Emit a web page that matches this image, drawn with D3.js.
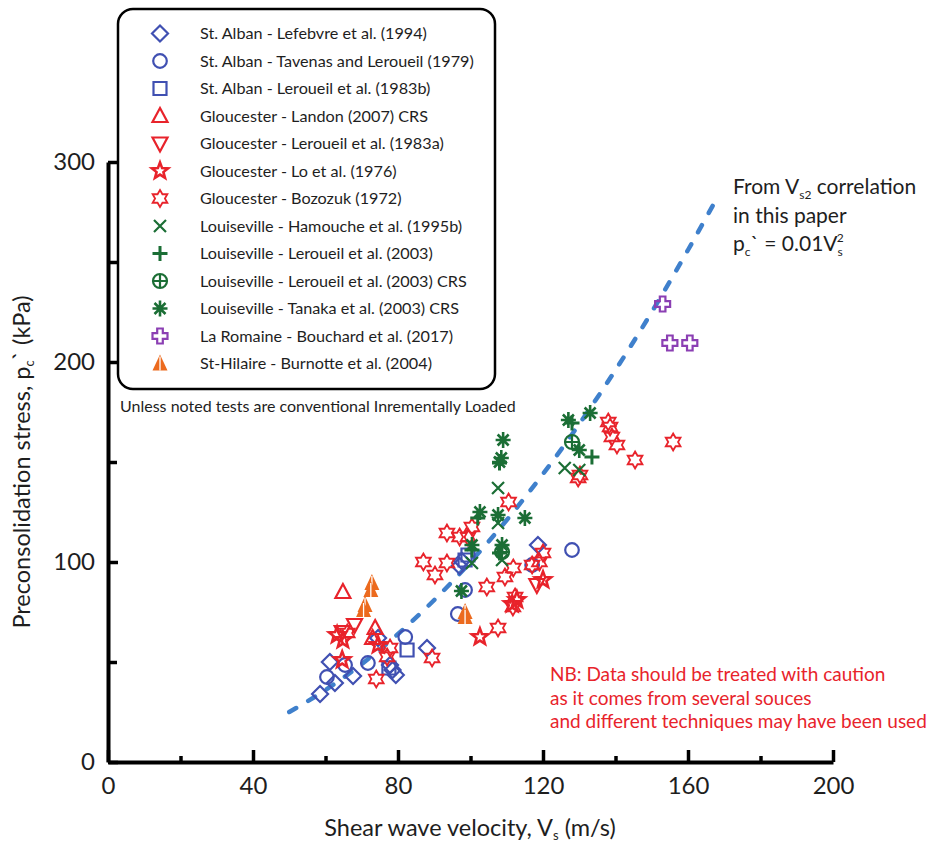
<!DOCTYPE html>
<html>
<head>
<meta charset="utf-8">
<script src="https://cdn.jsdelivr.net/npm/d3@7"></script>
<style>
  body { margin: 0; background: #fff; }
  svg text { font-family: Lato, "Open Sans", sans-serif; }
</style>
</head>
<body>
<svg id="vis-svg" width="940" height="843"></svg>
<script>
// data: [Vs (m/s), pc' (kPa)]
const lefebvre = [[58.5,34],[61.2,50],[62.6,39.5],[67.6,43],[74.5,62],[77.8,48.5],[79.4,43.5],[78.5,46],[88,57],[97,98],[97.6,100.5],[118.6,108.5]];
const tavenas = [[60.4,42.5],[65.4,48.5],[71.7,49.5],[82,62.5],[96.5,74],[98.5,86],[117,98.5],[128,106]];
const leroueilB = [[77.5,47],[82.5,56],[98.5,101],[99.3,103.5]];
const landon = [[64.8,85],[73.7,67],[73,62]];
const leroueilA = [[68,68.5],[64.6,65],[118.3,88.5]];
const lo = [[63.2,63.5],[64.8,61],[64.6,51],[74.5,58.5],[102.6,62.5],[112.8,81],[111.5,79],[120,91]];
const bozozuk = [[66,64.5],[74,41.5],[77.8,57],[77,52.5],[89.4,52],[90.2,93.5],[87,100],[93.5,99.5],[93.5,114.5],[97,112.5],
  [99.3,112.5],[100.4,117.5],[104.5,87.5],[109.5,92.5],[111.8,97],[117,98.5],[120,104.5],[119,100],[112.3,82.5],[111.7,77.5],
  [107.6,67],[110.5,130],[129.7,142],[130.2,143.5],[138,170],[138.5,167.5],[139,162.5],[140.4,158.5],[145.4,151],[155.9,160]];
const hamouche = [[107.6,137],[107.6,119.5],[100.4,99.5],[108.7,101],[126,147],[130,146]];
const leroueil2003 = [[108,149.5],[102,122],[100.4,106],[108,104.5],[128,169.5],[133.5,152.5]];
const leroueilCRS = [[108.7,105],[128,160]];
const tanaka = [[109,161],[108,150],[102.6,125],[107.6,123.5],[115,122],[100.4,108.5],[108.7,108.5],[97.5,85.5],[127,171],[133,174.5],[130,156],[108.5,152]];
const bouchard = [[153,229],[155,209.5],[160.5,209.5]];
const burnotte = [[72.8,89.5],[72.5,86],[70.9,78.5],[70.5,76],[98.5,75],[98.5,72.5]];

// Vs2 correlation curve, sampled from the dashed line
const curve = [[50,25],[60,36],[70,49],[80,64],[90,81],[100,100],[110,121],[120,144],[130,169],[140,196],[150,225],[160,256],[168,282]];

const xTicks = [0, 40, 80, 120, 160, 200],
      xMinor = [20, 60, 100, 140, 180],
      yTicks = [0, 100, 200, 300],
      yMinor = [50, 150, 250];

const BLUE = "#4050b2", RED = "#e8232b", GREEN = "#1b6e35", PURPLE = "#8b3fb3", ORANGE = "#ec6a1e";

// marker path builders (centred on 0,0)
function poly(pts) { return "M" + pts.map(p => p[0].toFixed(2) + "," + p[1].toFixed(2)).join("L") + "Z"; }
function starPts(n, ro, ri, rot) {
    let pts = [];
    for (let i = 0; i < 2 * n; i++) {
        let a = rot + i * Math.PI / n, r = i % 2 ? ri : ro;
        pts.push([r * Math.sin(a), -r * Math.cos(a)]);
    }
    return pts;
}
const circ = r => `M${-r},0A${r},${r} 0 1,0 ${r},0A${r},${r} 0 1,0 ${-r},0Z`;
const shapes = {
    diamond: "M0,-8L8,0L0,8L-8,0Z",
    circle: circ(6.8),
    square: "M-6.5,-6.5H6.5V6.5H-6.5Z",
    triUp: "M0,-8L7.5,6L-7.5,6Z",
    triDown: "M0,8L7.5,-6L-7.5,-6Z",
    star5: poly(starPts(5, 8.5, 3.6, 0)),
    hexagram: poly(starPts(6, 8.5, 4.9, 0)),
    cross: "M-6,-6L6,6M6,-6L-6,6",
    plus: "M-7.5,0H7.5M0,-7.5V7.5",
    circPlus: circ(7) + "M-7,0H7M0,-7V7",
    asterisk: "M-7.5,0H7.5M0,-8V8M-5.5,-5.5L5.5,5.5M5.5,-5.5L-5.5,5.5",
    greek: "M-2.8,-7.5H2.8V-2.8H7.5V2.8H2.8V7.5H-2.8V2.8H-7.5V-2.8H-2.8Z",
    filledTri: "M0,-9L7.5,7L-7.5,7Z"
};

const series = [
    {name: "St. Alban - Lefebvre et al. (1994)", data: lefebvre, shape: "diamond", color: BLUE},
    {name: "St. Alban - Tavenas and Leroueil (1979)", data: tavenas, shape: "circle", color: BLUE},
    {name: "St. Alban - Leroueil et al. (1983b)", data: leroueilB, shape: "square", color: BLUE},
    {name: "Gloucester - Landon (2007) CRS", data: landon, shape: "triUp", color: RED},
    {name: "Gloucester - Leroueil et al. (1983a)", data: leroueilA, shape: "triDown", color: RED},
    {name: "Gloucester - Lo et al. (1976)", data: lo, shape: "star5", color: RED, sw: 2.6},
    {name: "Gloucester - Bozozuk (1972)", data: bozozuk, shape: "hexagram", color: RED, sw: 1.8},
    {name: "Louiseville - Hamouche et al. (1995b)", data: hamouche, shape: "cross", color: GREEN},
    {name: "Louiseville - Leroueil et al. (2003)", data: leroueil2003, shape: "plus", color: GREEN, sw: 3},
    {name: "Louiseville - Leroueil et al. (2003) CRS", data: leroueilCRS, shape: "circPlus", color: GREEN},
    {name: "Louiseville - Tanaka et al. (2003) CRS", data: tanaka, shape: "asterisk", color: GREEN, sw: 2.6},
    {name: "La Romaine - Bouchard et al. (2017)", data: bouchard, shape: "greek", color: PURPLE},
    {name: "St-Hilaire - Burnotte et al. (2004)", data: burnotte, shape: "filledTri", color: ORANGE, filled: true}
];

const svg = d3.select("#vis-svg");

const x = d3.scaleLinear().domain([0, 200]).range([108, 833]),
      y = d3.scaleLinear().domain([0, 300]).range([762, 162]);

function drawMarker(g, s) {
    if (s.filled) {
        g.append("path").attr("d", shapes[s.shape]).attr("fill", s.color);
        g.append("path").attr("d", "M0,-7V7").attr("stroke", "#fff").attr("stroke-width", 1.3);
    } else {
        g.append("path").attr("d", shapes[s.shape])
            .attr("fill", "none")
            .attr("stroke", s.color)
            .attr("stroke-width", s.sw || 2.2)
            .attr("stroke-linejoin", "miter");
    }
}

// Axes (ticks pointing inwards)
function styleAxis(g) {
    g.select(".domain").attr("stroke", "#000").attr("stroke-width", 4);
    g.selectAll(".tick line").attr("stroke", "#000").attr("stroke-width", 3.5);
    g.selectAll(".tick text").attr("fill", "#1e1e1e").style("font-size", "24px").style("font-family", "Lato, sans-serif");
}

let xAxis = svg.append("g")
    .attr("transform", "translate(0," + y(0) + ")")
    .call(d3.axisBottom(x).tickValues(xTicks).tickSize(-12).tickSizeOuter(0).tickPadding(15).tickFormat(d3.format("d")))
    .call(styleAxis);
svg.append("g")
    .attr("transform", "translate(0," + y(0) + ")")
    .call(d3.axisBottom(x).tickValues(xMinor).tickSize(-6).tickFormat(""))
    .call(g => g.select(".domain").remove())
    .call(styleAxis);

let yAxis = svg.append("g")
    .attr("transform", "translate(" + x(0) + ",0)")
    .call(d3.axisLeft(y).tickValues(yTicks).tickSize(-10).tickSizeOuter(0).tickPadding(13))
    .call(styleAxis);
svg.append("g")
    .attr("transform", "translate(" + x(0) + ",0)")
    .call(d3.axisLeft(y).tickValues(yMinor).tickSize(-9).tickFormat(""))
    .call(g => g.select(".domain").remove())
    .call(styleAxis);

// axis labels
let xl = svg.append("text")
    .attr("x", 470).attr("y", 836)
    .attr("text-anchor", "middle")
    .style("font-size", "23.5px").attr("fill", "#1e1e1e");
xl.append("tspan").text("Shear wave velocity, V");
xl.append("tspan").attr("baseline-shift", "-30%").style("font-size", "13px").text("s");
xl.append("tspan").text(" (m/s)");

let yl = svg.append("text")
    .attr("transform", "translate(30,462) rotate(-90)")
    .attr("text-anchor", "middle")
    .style("font-size", "23.5px").attr("fill", "#1e1e1e");
yl.append("tspan").text("Preconsolidation stress, p");
yl.append("tspan").attr("baseline-shift", "-30%").style("font-size", "13px").text("c");
yl.append("tspan").text("` (kPa)");

// correlation curve
svg.append("path")
    .datum(curve)
    .attr("d", d3.line().x(d => x(d[0])).y(d => y(d[1])).curve(d3.curveMonotoneX))
    .attr("fill", "none")
    .attr("stroke", "#3f80cc")
    .attr("stroke-width", 4.5)
    .attr("stroke-linecap", "round")
    .attr("stroke-dasharray", "8,14");

// points
series.forEach(s => {
    svg.append("g").selectAll("g")
        .data(s.data)
      .enter().append("g")
        .attr("transform", d => "translate(" + x(d[0]) + "," + y(d[1]) + ")")
        .each(function() { drawMarker(d3.select(this), s); });
});

// legend
const legend = svg.append("g");
legend.append("rect")
    .attr("x", 118).attr("y", 9).attr("width", 377).attr("height", 380)
    .attr("rx", 15).attr("ry", 15)
    .attr("fill", "#fff").attr("stroke", "#000").attr("stroke-width", 2.5);
series.forEach((s, i) => {
    let row = legend.append("g").attr("transform", "translate(160," + (33.5 + i * 27.5) + ")");
    drawMarker(row, s);
    row.append("text")
        .attr("x", 40).attr("dy", "0.35em")
        .style("font-size", "16.2px").attr("fill", "#1e1e1e")
        .text(s.name);
});

svg.append("text")
    .attr("x", 120).attr("y", 412)
    .style("font-size", "16px").attr("fill", "#1e1e1e")
    .text("Unless noted tests are conventional Inrementally Loaded");

// curve annotation (one text per line so the subscripts have room)
const annX = 733;
let l1 = svg.append("text").attr("x", annX).attr("y", 194).style("font-size", "21px").attr("fill", "#1e1e1e");
l1.append("tspan").text("From V");
l1.append("tspan").attr("dy", 5).style("font-size", "12px").text("s2");
l1.append("tspan").attr("dy", -5).text(" correlation");
svg.append("text").attr("x", annX).attr("y", 223).style("font-size", "21px").attr("fill", "#1e1e1e")
    .text("in this paper");
let l3 = svg.append("text").attr("x", annX).attr("y", 251).style("font-size", "21px").attr("fill", "#1e1e1e");
l3.append("tspan").text("p");
l3.append("tspan").attr("dy", 5).style("font-size", "12px").text("c");
l3.append("tspan").attr("dy", -5).text("` = 0.01V");
l3.append("tspan").attr("dy", 5).style("font-size", "12px").text("s");
l3.append("tspan").attr("dx", -6).attr("dy", -14).style("font-size", "12px").text("2");

// caution note
const note = ["NB: Data should be treated with caution",
              "as it comes from several souces",
              "and different techniques may have been used"];
svg.append("g").selectAll("text")
    .data(note)
  .enter().append("text")
    .attr("x", 550).attr("y", (d, i) => 681 + i * 23.5)
    .style("font-size", "19px").attr("fill", "#e8232b")
    .text(d => d);
</script>
</body>
</html>
